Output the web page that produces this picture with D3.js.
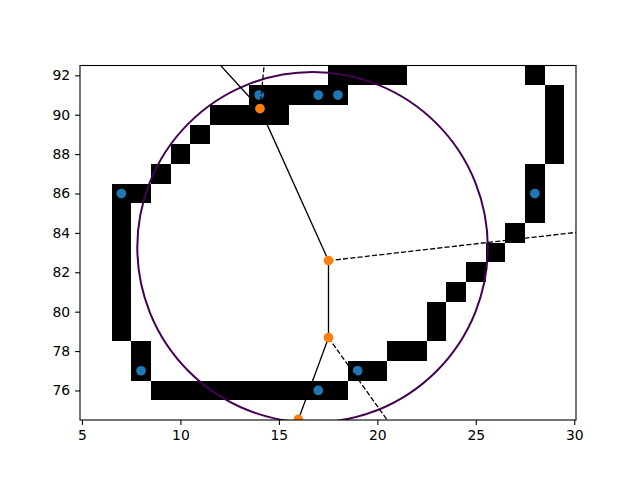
<!DOCTYPE html>
<html>
<head>
<meta charset="utf-8">
<script src="https://cdn.jsdelivr.net/npm/d3@7"></script>
<style>
  body { margin: 0; background: #fff; }
  text { font-family: "DejaVu Sans", sans-serif; }
</style>
</head>
<body>
<div id="chart"></div>
<script>
// image cells that are black (column, row)
const blackCells = [
  [18,92],[19,92],[20,92],[21,92],[28,92],
  [14,91],[15,91],[16,91],[17,91],[18,91],[29,91],
  [12,90],[13,90],[14,90],[15,90],[29,90],
  [11,89],[29,89],
  [10,88],[29,88],
  [9,87],[28,87],
  [7,86],[8,86],[28,86],
  [7,85],[28,85],
  [7,84],[27,84],
  [7,83],[26,83],
  [7,82],[25,82],
  [7,81],[24,81],
  [7,80],[23,80],
  [7,79],[23,79],
  [8,78],[21,78],[22,78],
  [8,77],[19,77],[20,77],
  [9,76],[10,76],[11,76],[12,76],[13,76],[14,76],[15,76],[16,76],[17,76],[18,76]
];

const points = [[14,91],[17,91],[18,91],[7,86],[28,86],[8,77],[17,76],[19,77]];

const vertices = [[14.04,90.31],[17.52,82.59],[17.52,78.68],[15.99,74.53],[10.2,94.52]];
const finiteRidges = [[0,1],[1,2],[2,3],[0,4]];
// infinite ridges: start vertex, far point
const infiniteRidges = [[0,[14.45,94.6]],[1,[31,84.13]],[2,[21.0,73.8]]];

const circleCenter = [16.71, 83.27];
const circleRadius = 8.9;

const xTicks = [5,10,15,20,25,30];
const yTicks = [76,78,80,82,84,86,88,90,92];

const width = 640, height = 480;
const margin = {left: 80, top: 65.5, w: 496, h: 354.5};

const svg = d3.select("#chart").append("svg")
  .attr("width", width).attr("height", height);

const x = d3.scaleLinear().domain([4.9, 30.09]).range([margin.left, margin.left + margin.w]);
const y = d3.scaleLinear().domain([74.5, 92.5]).range([margin.top + margin.h, margin.top]);

svg.append("defs").append("clipPath").attr("id", "clip")
  .append("rect")
  .attr("x", margin.left).attr("y", margin.top)
  .attr("width", margin.w).attr("height", margin.h);

const plot = svg.append("g").attr("clip-path", "url(#clip)");

// image
plot.append("g").selectAll("rect").data(blackCells).join("rect")
  .attr("x", d => x(d[0] - 0.5))
  .attr("y", d => y(d[1] + 0.5))
  .attr("width", d => x(d[0] + 0.5) - x(d[0] - 0.5))
  .attr("height", d => y(d[1] - 0.5) - y(d[1] + 0.5))
  .attr("fill", "#000")
  .attr("shape-rendering", "crispEdges");

// circle
const pr = x(circleCenter[0] + circleRadius) - x(circleCenter[0]);
plot.append("circle")
  .attr("cx", x(circleCenter[0])).attr("cy", y(circleCenter[1]))
  .attr("r", pr)
  .attr("fill", "none")
  .attr("stroke", "#440154")
  .attr("stroke-width", 2);

// input points
plot.append("g").selectAll("circle").data(points).join("circle")
  .attr("cx", d => x(d[0])).attr("cy", d => y(d[1]))
  .attr("r", 4.85)
  .attr("fill", "#1f77b4");

// ridges
plot.append("g").selectAll("line").data(finiteRidges).join("line")
  .attr("x1", d => x(vertices[d[0]][0])).attr("y1", d => y(vertices[d[0]][1]))
  .attr("x2", d => x(vertices[d[1]][0])).attr("y2", d => y(vertices[d[1]][1]))
  .attr("stroke", "#000").attr("stroke-width", 1.3);

plot.append("g").selectAll("line").data(infiniteRidges).join("line")
  .attr("x1", d => x(vertices[d[0]][0])).attr("y1", d => y(vertices[d[0]][1]))
  .attr("x2", d => x(d[1][0])).attr("y2", d => y(d[1][1]))
  .attr("stroke", "#000").attr("stroke-width", 1.3)
  .attr("stroke-dasharray", "5.1,2.2");

// vertices
plot.append("g").selectAll("circle").data(vertices).join("circle")
  .attr("cx", d => x(d[0])).attr("cy", d => y(d[1]))
  .attr("r", 4.85)
  .attr("fill", "#ff7f0e");

// axes
const xAxis = d3.axisBottom(x).tickValues(xTicks).tickSize(4.9).tickPadding(4.9).tickFormat(d3.format("d"));
const yAxis = d3.axisLeft(y).tickValues(yTicks).tickSize(4.9).tickPadding(4.9).tickFormat(d3.format("d"));

const gx = svg.append("g").attr("transform", `translate(0,${margin.top + margin.h})`).call(xAxis);
const gy = svg.append("g").attr("transform", `translate(${margin.left},0)`).call(yAxis);
[gx, gy].forEach(g => {
  g.select(".domain").remove();
  g.selectAll(".tick line").attr("stroke", "#000").attr("stroke-width", 1.1);
  g.selectAll(".tick text").attr("fill", "#000").style("font-size", "13.9px")
    .style("font-family", "DejaVu Sans, sans-serif");
});

// frame
svg.append("rect")
  .attr("x", margin.left).attr("y", margin.top)
  .attr("width", margin.w).attr("height", margin.h)
  .attr("fill", "none").attr("stroke", "#000").attr("stroke-width", 1.1);
</script>
</body>
</html>
